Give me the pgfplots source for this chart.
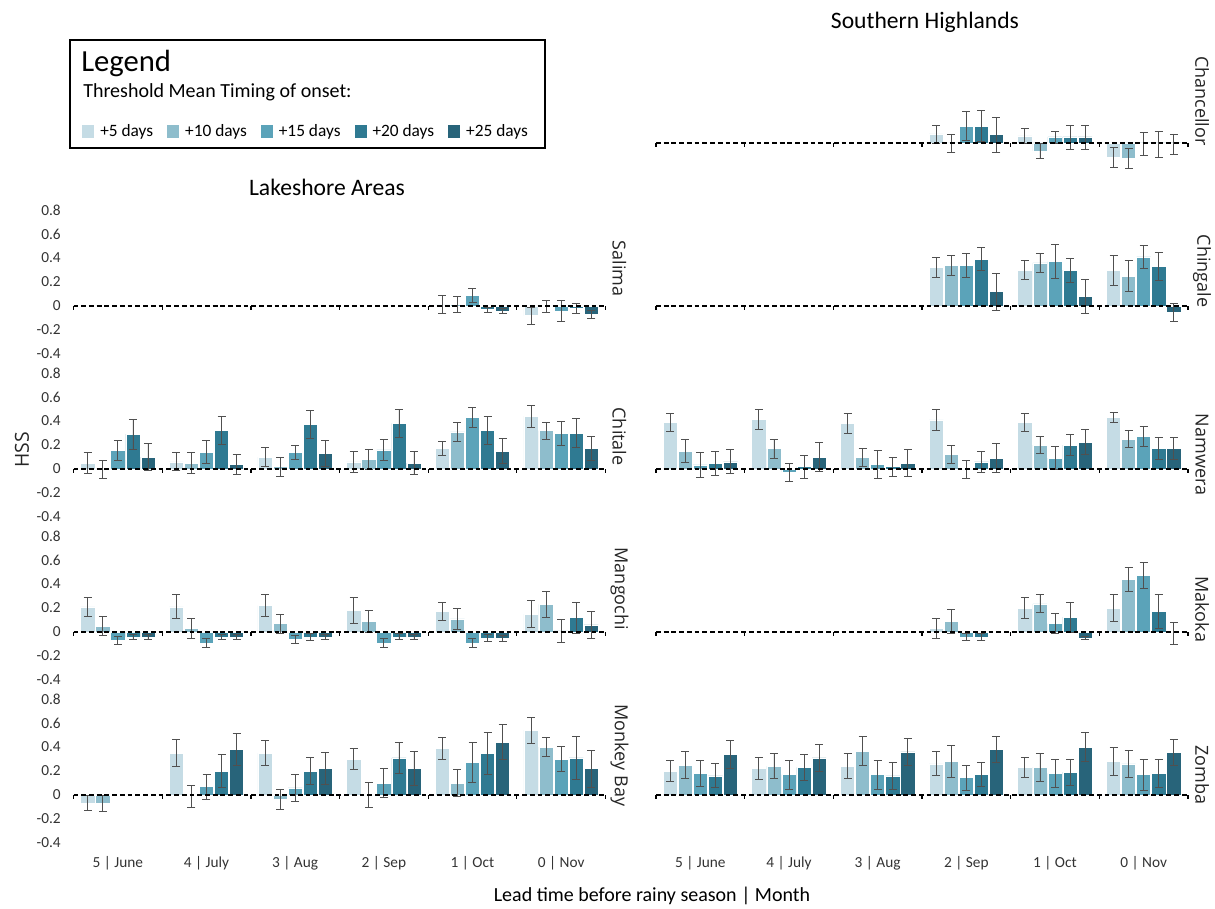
\documentclass[border=0pt]{standalone}
\usepackage{pgfplots}
\pgfplotsset{compat=1.18}
\usepackage{pgfplotstable}
\usepackage{fontspec}
\setmainfont{Carlito}
\newfontfamily\osans{Open Sans}

\definecolor{cA}{HTML}{C5DCE5}
\definecolor{cB}{HTML}{8EBDCC}
\definecolor{cC}{HTML}{5BA3B9}
\definecolor{cD}{HTML}{2F7A92}
\definecolor{cE}{HTML}{28647A}
\definecolor{errc}{HTML}{505050}

% columns: group, values for +5..+25 days, error half-widths
\pgfplotstableread{
g a b c d e ea eb ec ed ee
4 0.01 0.015 0.09 -0.03 -0.04 0.075 0.065 0.06 0.02 0.02
5 -0.08 -0.005 -0.04 -0.02 -0.07 0.07 0.05 0.085 0.045 0.03
}\salima

\pgfplotstableread{
g a b c d e ea eb ec ed ee
0 0.05 0.0 0.155 0.29 0.10 0.09 0.075 0.08 0.125 0.11
1 0.06 0.05 0.14 0.32 0.04 0.075 0.09 0.095 0.115 0.085
2 0.10 0.02 0.14 0.37 0.13 0.08 0.08 0.06 0.115 0.105
3 0.06 0.08 0.16 0.38 0.05 0.09 0.085 0.09 0.12 0.095
4 0.17 0.31 0.43 0.32 0.15 0.06 0.08 0.08 0.115 0.105
5 0.44 0.32 0.30 0.30 0.17 0.09 0.07 0.10 0.12 0.10
}\chitale

\pgfplotstableread{
g a b c d e ea eb ec ed ee
0 0.21 0.05 -0.07 -0.04 -0.04 0.08 0.08 0.035 0.02 0.02
1 0.21 0.03 -0.09 -0.04 -0.04 0.10 0.08 0.04 0.02 0.02
2 0.22 0.07 -0.06 -0.04 -0.04 0.09 0.08 0.035 0.03 0.02
3 0.18 0.09 -0.09 -0.04 -0.04 0.105 0.09 0.04 0.025 0.02
4 0.17 0.11 -0.09 -0.05 -0.05 0.075 0.09 0.04 0.03 0.025
5 0.15 0.23 0.01 0.12 0.06 0.11 0.11 0.095 0.13 0.11
}\mangochi

\pgfplotstableread{
g a b c d e ea eb ec ed ee
0 -0.065 -0.07 nan nan nan 0.06 0.07 nan nan nan
1 0.35 -0.01 0.07 0.20 0.38 0.11 0.09 0.105 0.135 0.13
2 0.35 -0.035 0.06 0.20 0.22 0.105 0.085 0.11 0.115 0.135
3 0.30 0.0 0.10 0.31 0.22 0.09 0.105 0.12 0.13 0.14
4 0.39 0.10 0.27 0.35 0.44 0.09 0.11 0.165 0.175 0.145
5 0.54 0.40 0.30 0.31 0.22 0.11 0.08 0.105 0.18 0.155
}\monkeybay

\pgfplotstableread{
g a b c d e ea eb ec ed ee
3 0.075 0.0 0.14 0.14 0.07 0.075 0.075 0.12 0.13 0.145
4 0.06 -0.065 0.05 0.05 0.05 0.065 0.06 0.05 0.10 0.10
5 -0.12 -0.13 -0.005 -0.01 -0.01 0.08 0.085 0.095 0.11 0.085
}\chancellor

\pgfplotstableread{
g a b c d e ea eb ec ed ee
3 0.32 0.34 0.34 0.39 0.12 0.085 0.085 0.10 0.095 0.155
4 0.30 0.36 0.37 0.30 0.08 0.08 0.08 0.14 0.10 0.145
5 0.30 0.25 0.41 0.33 -0.05 0.125 0.13 0.095 0.12 0.075
}\chingale

\pgfplotstableread{
g a b c d e ea eb ec ed ee
0 0.39 0.15 0.035 0.05 0.06 0.075 0.095 0.105 0.10 0.10
1 0.415 0.17 -0.025 0.02 0.10 0.085 0.08 0.075 0.095 0.12
2 0.38 0.10 0.04 0.02 0.05 0.085 0.075 0.115 0.08 0.115
3 0.41 0.12 0.0 0.06 0.09 0.085 0.075 0.075 0.085 0.12
4 0.39 0.20 0.09 0.20 0.225 0.075 0.07 0.095 0.09 0.105
5 0.43 0.25 0.27 0.17 0.17 0.04 0.07 0.085 0.09 0.09
}\namwera

\pgfplotstableread{
g a b c d e ea eb ec ed ee
3 0.03 0.09 -0.04 -0.04 nan 0.08 0.10 0.03 0.03 nan
4 0.20 0.235 0.07 0.125 -0.05 0.09 0.075 0.085 0.125 0.015
5 0.20 0.44 0.47 0.17 -0.01 0.115 0.10 0.11 0.14 0.09
}\makoka

\pgfplotstableread{
g a b c d e ea eb ec ed ee
0 0.20 0.25 0.18 0.16 0.34 0.09 0.11 0.11 0.10 0.115
1 0.22 0.24 0.17 0.23 0.31 0.09 0.105 0.12 0.11 0.115
2 0.24 0.365 0.17 0.16 0.36 0.105 0.12 0.12 0.11 0.115
3 0.26 0.28 0.145 0.17 0.38 0.10 0.13 0.105 0.10 0.11
4 0.23 0.23 0.18 0.19 0.40 0.085 0.12 0.12 0.11 0.12
5 0.28 0.26 0.17 0.18 0.355 0.115 0.115 0.13 0.12 0.11
}\zomba

\pgfplotsset{
  hss/.style={
    scale only axis, width=399pt, height=122.4pt,
    xmin=-0.5, xmax=5.5, ymin=-0.48, ymax=0.88,
    axis line style={draw=none}, tick style={draw=none},
    xtick=\empty, ytick=\empty,
    clip=false, anchor=south west,
    tick label style={font=\fontsize{11.5}{13}\selectfont, text=black!80},
  },
  leftcol/.style={
    ytick={-0.4,-0.2,0,0.2,0.4,0.6,0.8},
    yticklabels={-0.4,-0.2,0,0.2,0.4,0.6,0.8},
    yticklabel style={anchor=east, inner sep=0pt, xshift=-9.4pt}},
  bottomrow/.style={
    xtick={0,1,2,3,4,5},
    xticklabels={5 | June, 4 | July, 3 | Aug, 2 | Sep, 1 | Oct, 0 | Nov},
    xticklabel style={anchor=north, inner sep=0pt, yshift=-3pt}},
  hb/.style={ybar, bar width=0.16, bar shift=0, draw=white, line width=0.4pt,
    legend image code/.code={\fill[##1,draw=none] (0pt,-4.9pt) rectangle (9pt,4.9pt);},
    error bars/y dir=both, error bars/y explicit,
    error bars/error bar style={errc, line width=0.6pt},
    error bars/error mark options={rotate=90, errc, mark size=3pt, line width=0.6pt}},
}

% five bars per group, placed 0.17 apart around each group centre g
\newcommand\bars[1]{%
  \addplot[hb, fill=cA] table[x expr=\thisrow{g}-0.34,y=a,y error=ea]{#1};
  \addplot[hb, fill=cB] table[x expr=\thisrow{g}-0.17,y=b,y error=eb]{#1};
  \addplot[hb, fill=cC] table[x expr=\thisrow{g},y=c,y error=ec]{#1};
  \addplot[hb, fill=cD] table[x expr=\thisrow{g}+0.17,y=d,y error=ed]{#1};
  \addplot[hb, fill=cE] table[x expr=\thisrow{g}+0.34,y=e,y error=ee]{#1};
  \addplot[black, line width=1pt, dash pattern=on 3.6pt off 2.2pt, forget plot] coordinates {(-0.5,0) (5.5,0)};
  \pgfplotsinvokeforeach{-0.5,0.5,1.5,2.5,3.5,4.5,5.5}{\draw[black, line width=1pt] (axis cs:##1,0) -- ++(0pt,-3pt);}
}
\newcommand\stationlabel[2]{\node[rotate=-90, font=\osans\fontsize{13.5}{16}\selectfont, text=black!85] at ([xshift=10.5pt]axis cs:5.5,#2) {#1};}

\begin{document}
\begin{tikzpicture}
\path[use as bounding box] (0pt,0pt) rectangle (911.25pt,-681.75pt);
\begin{scope}[x=0.75pt,y=-0.75pt]
\draw[line width=1.1pt] (70,40) rectangle (545,148);
\node[anchor=base west, inner sep=0pt, font=\fontsize{23}{26}\selectfont] at (81,72) {Legend};
\node[anchor=base west, inner sep=0pt, font=\fontsize{15}{18}\selectfont] at (83,98) {Threshold Mean Timing of onset:};
\node[font=\fontsize{17.7}{20}\selectfont] at (925,22) {Southern Highlands};
\node[font=\fontsize{17.7}{20}\selectfont] at (327,187) {Lakeshore Areas};
\node[rotate=90, font=\osans\fontsize{14.5}{17}\selectfont, text=black!85] at (22,450) {HSS};
\node[font=\fontsize{15}{18}\selectfont] at (652,896) {Lead time before rainy season | Month};
\end{scope}

% ---- left column ----
\begin{axis}[hss, leftcol, at={(55.125pt,-272.7pt)},
  legend entries={+5 days,+10 days,+15 days,+20 days,+25 days},
  legend columns=5,
  legend style={at={(axis description cs:0.016,1.422)}, anchor=west, draw=none, fill=none,
    inner sep=0pt, font=\fontsize{13}{15}\selectfont,
    /tikz/every odd column/.append style={column sep=2.5pt},
    /tikz/every even column/.append style={column sep=8.5pt}}]
\bars{\salima}
\stationlabel{Salima}{0.31}
\end{axis}

\begin{axis}[hss, leftcol, at={(55.125pt,-394.95pt)}]
\bars{\chitale}
\stationlabel{Chitale}{0.27}
\end{axis}

\begin{axis}[hss, leftcol, at={(55.125pt,-517.2pt)}]
\bars{\mangochi}
\stationlabel{Mangochi}{0.36}
\end{axis}

\begin{axis}[hss, leftcol, bottomrow, at={(55.125pt,-639.45pt)}]
\bars{\monkeybay}
\stationlabel{Monkey Bay}{0.33}
\end{axis}

% ---- right column ----
\begin{axis}[hss, at={(492pt,-150.45pt)}]
\bars{\chancellor}
\stationlabel{Chancellor}{0.35}
\end{axis}

\begin{axis}[hss, at={(492pt,-272.7pt)}]
\bars{\chingale}
\stationlabel{Chingale}{0.29}
\end{axis}

\begin{axis}[hss, at={(492pt,-394.95pt)}]
\bars{\namwera}
\stationlabel{Namwera}{0.12}
\end{axis}

\begin{axis}[hss, at={(492pt,-517.2pt)}]
\bars{\makoka}
\stationlabel{Makoka}{0.19}
\end{axis}

\begin{axis}[hss, bottomrow, at={(492pt,-639.45pt)}]
\bars{\zomba}
\stationlabel{Zomba}{0.17}
\end{axis}
\end{tikzpicture}
\end{document}
